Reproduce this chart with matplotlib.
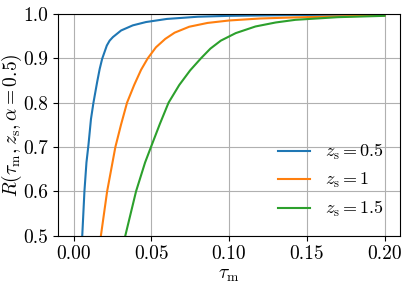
import numpy as np
import matplotlib
matplotlib.use("Agg")
import matplotlib.pyplot as plt

plt.rcParams['font.family'] = 'serif'
plt.rcParams['font.serif'] = ['cmr10']
plt.rcParams['mathtext.fontset'] = 'cm'
plt.rcParams['axes.formatter.use_mathtext'] = True
plt.rcParams['font.size'] = 14

# values
tau_05 = [0.0056, 0.0070, 0.0083, 0.0096, 0.0112, 0.0128, 0.0152, 0.0168, 0.0184,
          0.0214, 0.0232, 0.0253, 0.0306, 0.0381, 0.0466, 0.0600, 0.0800, 0.1000,
          0.1500, 0.2000]
R_05 = [0.500, 0.600, 0.665, 0.705, 0.763, 0.800, 0.847, 0.876, 0.899,
        0.929, 0.940, 0.948, 0.963, 0.9745, 0.982, 0.989, 0.994, 0.996,
        0.998, 0.999]

tau_1 = [0.0176, 0.0216, 0.0269, 0.0305, 0.0344, 0.0390, 0.0434, 0.0477, 0.0530,
         0.0590, 0.0650, 0.0744, 0.0862, 0.1000, 0.1200, 0.1427, 0.2000]
R_1 = [0.500, 0.600, 0.700, 0.750, 0.800, 0.840, 0.874, 0.900, 0.925,
       0.944, 0.958, 0.9714, 0.980, 0.9855, 0.990, 0.9925, 0.997]

tau_15 = [0.0333, 0.0402, 0.0460, 0.0498, 0.0555, 0.0611, 0.0680, 0.0750, 0.0819,
          0.0880, 0.0947, 0.1043, 0.1170, 0.1300, 0.1427, 0.1700, 0.2000]
R_15 = [0.500, 0.600, 0.665, 0.700, 0.752, 0.800, 0.840, 0.873, 0.900,
        0.922, 0.940, 0.957, 0.972, 0.981, 0.987, 0.993, 0.996]

labels = [r'$z_\mathrm{s} = 0.5$', r'$z_\mathrm{s} = 1$', r'$z_\mathrm{s} = 1.5$']

fig = plt.figure(figsize=(4.07, 2.87), dpi=100)
ax = fig.add_axes([0.1425, 0.179, 0.8405, 0.772])

ax.plot(tau_05, R_05, label=labels[0])
ax.plot(tau_1, R_1, label=labels[1])
ax.plot(tau_15, R_15, label=labels[2])

ax.set_xlim(-0.01, 0.21)
ax.set_ylim(0.5, 1.0)
ax.set_xticks([0.0, 0.05, 0.10, 0.15, 0.20])
ax.set_xticklabels(['0.00', '0.05', '0.10', '0.15', '0.20'])
ax.set_yticks([0.5, 0.6, 0.7, 0.8, 0.9, 1.0])
ax.set_yticklabels(['0.5', '0.6', '0.7', '0.8', '0.9', '1.0'])
ax.grid(True)
ax.set_xlabel(r'$\tau_\mathrm{m}$', labelpad=2)
ax.set_ylabel(r'$R(\tau_\mathrm{m}, z_\mathrm{s}, \alpha = 0.5)$')
ax.yaxis.set_label_coords(-0.10, 0.5)
ax.legend(loc='lower right', frameon=False, fontsize=13, handlelength=1.8)

fig.savefig('out.png', dpi=100)
